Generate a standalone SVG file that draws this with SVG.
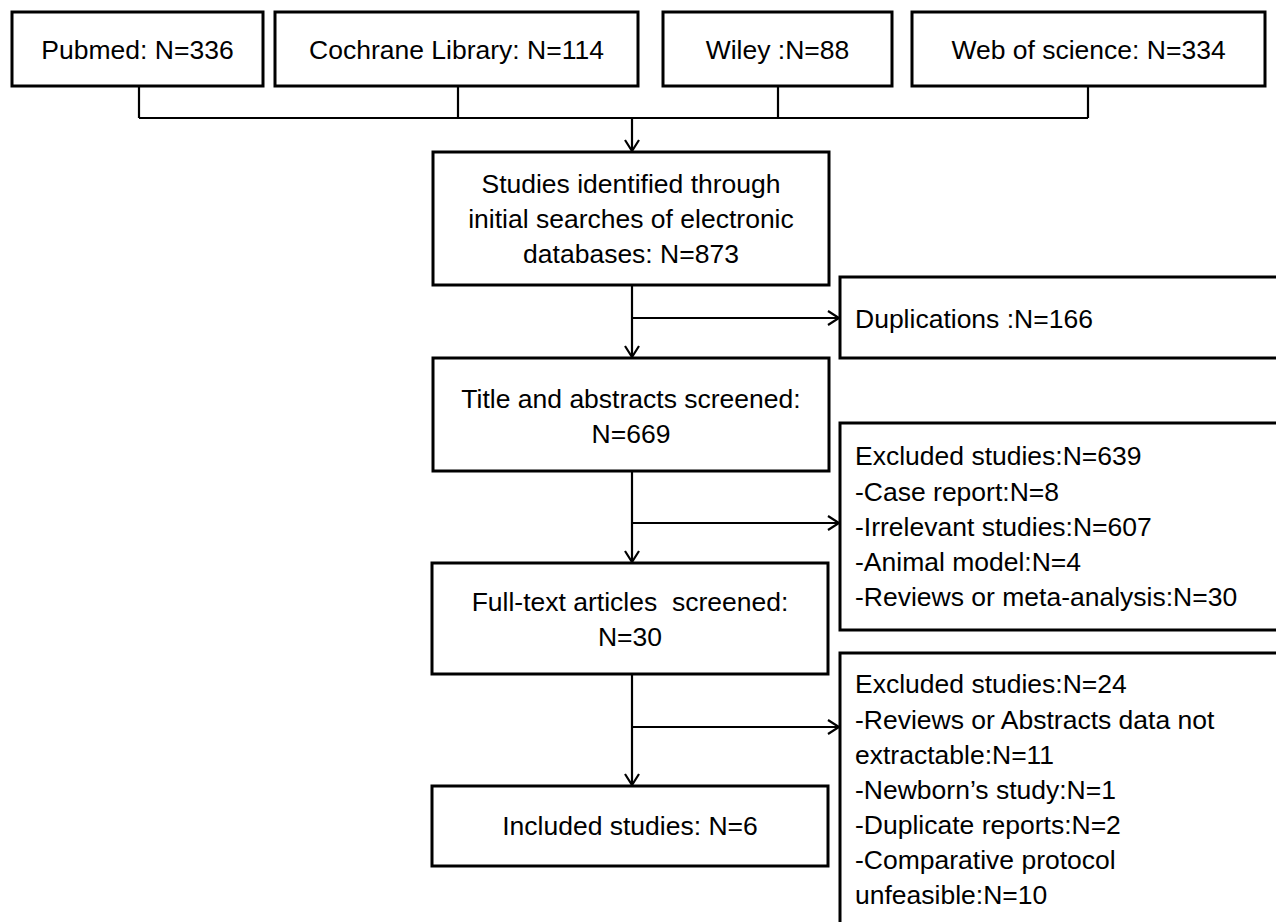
<svg xmlns="http://www.w3.org/2000/svg" width="1276" height="922" viewBox="0 0 1276 922">
<style>
.box{fill:#fff;stroke:#000;stroke-width:3}
.t{font-family:"Liberation Sans",Arial,sans-serif;font-size:26.5px;fill:#000}
.c{text-anchor:middle}
.ln{fill:none;stroke:#000;stroke-width:2.2}
</style>
<defs>
<marker id="ah" markerWidth="14" markerHeight="16" refX="12" refY="8" orient="auto" markerUnits="userSpaceOnUse">
<path d="M1,1 L12,8 L1,15" fill="none" stroke="#000" stroke-width="2.2"/>
</marker>
</defs>
<rect width="1276" height="922" fill="#fff"/>
<g id="connectors">
<path class="ln" d="M139,86 V118 M458,86 V118 M778,86 V118 M1088,86 V118 M139,118 H1088"/>
<path class="ln" d="M632,118 V151" marker-end="url(#ah)"/>
<path class="ln" d="M632,285 V357" marker-end="url(#ah)"/>
<path class="ln" d="M632,318 H839" marker-end="url(#ah)"/>
<path class="ln" d="M632,471 V562" marker-end="url(#ah)"/>
<path class="ln" d="M632,523 H839" marker-end="url(#ah)"/>
<path class="ln" d="M632,674 V785" marker-end="url(#ah)"/>
<path class="ln" d="M632,727 H839" marker-end="url(#ah)"/>
</g>
<g id="pubmed"><rect class="box" x="12" y="12" width="251" height="74"/><text class="t c" x="137.5" y="59">Pubmed: N=336</text></g>
<g id="cochrane"><rect class="box" x="275" y="12" width="363" height="74"/><text class="t c" x="456.5" y="59">Cochrane Library: N=114</text></g>
<g id="wiley"><rect class="box" x="663" y="12" width="229" height="74"/><text class="t c" x="777.5" y="59">Wiley :N=88</text></g>
<g id="wos"><rect class="box" x="912" y="12" width="353" height="74"/><text class="t c" x="1088.5" y="59">Web of science: N=334</text></g>
<g id="identified"><rect class="box" x="433" y="152" width="396" height="133"/>
<text class="t c" x="631" y="193">Studies identified through</text>
<text class="t c" x="631" y="228">initial searches of electronic</text>
<text class="t c" x="631" y="263">databases: N=873</text></g>
<g id="duplications"><rect class="box" x="840" y="277" width="450" height="81"/><text class="t" x="855" y="328">Duplications :N=166</text></g>
<g id="title"><rect class="box" x="433" y="358" width="396" height="113"/>
<text class="t c" x="631" y="408">Title and abstracts screened:</text>
<text class="t c" x="631" y="443">N=669</text></g>
<g id="excluded1"><rect class="box" x="840" y="423" width="450" height="207"/>
<text class="t" x="855" y="465">Excluded studies:N=639</text>
<text class="t" x="855" y="501">-Case report:N=8</text>
<text class="t" x="855" y="536">-Irrelevant studies:N=607</text>
<text class="t" x="855" y="571">-Animal model:N=4</text>
<text class="t" x="855" y="606">-Reviews or meta-analysis:N=30</text></g>
<g id="fulltext"><rect class="box" x="432" y="563" width="396" height="111"/>
<text class="t c" x="630" y="611" xml:space="preserve" style="white-space:pre">Full-text articles  screened:</text>
<text class="t c" x="630" y="646">N=30</text></g>
<g id="excluded2"><rect class="box" x="840" y="653" width="450" height="300"/>
<text class="t" x="855" y="693">Excluded studies:N=24</text>
<text class="t" x="855" y="729">-Reviews or Abstracts data not</text>
<text class="t" x="855" y="764">extractable:N=11</text>
<text class="t" x="855" y="799">-Newborn’s study:N=1</text>
<text class="t" x="855" y="834">-Duplicate reports:N=2</text>
<text class="t" x="855" y="869">-Comparative protocol</text>
<text class="t" x="855" y="904">unfeasible:N=10</text></g>
<g id="included"><rect class="box" x="432" y="786" width="396" height="80"/><text class="t c" x="630" y="835">Included studies: N=6</text></g>
</svg>
